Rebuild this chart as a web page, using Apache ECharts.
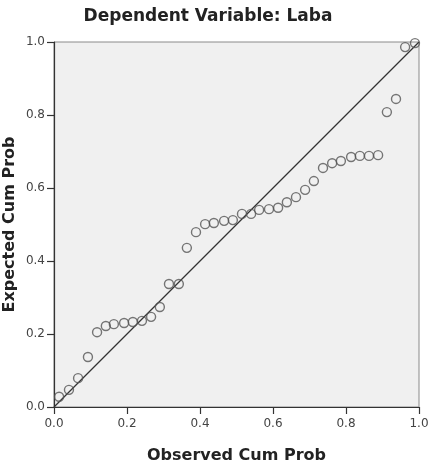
<!DOCTYPE html>
<html>
<head>
<meta charset="utf-8">
<script src="https://cdn.jsdelivr.net/npm/echarts@6/dist/echarts.min.js"></script>
<style>
  html, body { margin: 0; padding: 0; background: #fff; }
  #chart { width: 440px; height: 467px; }
</style>
</head>
<body>
<div id="chart"></div>
<script>
// observed cum prob (x) and expected cum prob (y)
var observed = [0.014, 0.041, 0.066, 0.093, 0.118, 0.142, 0.164, 0.192, 0.216, 0.241,
                0.266, 0.290, 0.315, 0.342, 0.364, 0.389, 0.414, 0.438, 0.466, 0.490,
                0.515, 0.540, 0.562, 0.589, 0.614, 0.638, 0.663, 0.688, 0.712, 0.737,
                0.762, 0.786, 0.814, 0.838, 0.863, 0.888, 0.912, 0.937, 0.962, 0.989];
var expected = [0.028, 0.047, 0.079, 0.137, 0.205, 0.222, 0.227, 0.230, 0.233, 0.236,
                0.247, 0.274, 0.337, 0.337, 0.436, 0.479, 0.501, 0.504, 0.510, 0.512,
                0.529, 0.529, 0.540, 0.542, 0.546, 0.561, 0.575, 0.595, 0.619, 0.655,
                0.668, 0.674, 0.685, 0.688, 0.688, 0.690, 0.808, 0.844, 0.986, 0.997];
var refLine = [[0, 0], [1, 1]];
var ticks = [0, 0.2, 0.4, 0.6, 0.8, 1.0];

var points = observed.map(function (x, i) { return [x, expected[i]]; });

var chart = echarts.init(document.getElementById('chart'));

var labelFont = { fontFamily: 'DejaVu Sans', fontSize: 12, color: '#444' };
var nameFont = { fontFamily: 'DejaVu Sans', fontSize: 16, fontWeight: 'bold', color: '#222' };

var option = {
    animation: false,
    title: {
        text: 'Dependent Variable: Laba',
        left: 203,
        textAlign: 'center',
        top: 3,
        textStyle: { fontFamily: 'DejaVu Sans', fontSize: 17, fontWeight: 'bold', color: '#222' }
    },
    grid: {
        left: 54, right: 21, top: 42, bottom: 60,
        outerBoundsMode: 'none',
        containLabel: false,
        show: true,
        backgroundColor: '#f0f0f0',
        borderColor: '#8a8a8a',
        borderWidth: 1
    },
    xAxis: {
        type: 'value',
        min: ticks[0], max: ticks[ticks.length - 1], interval: 0.2,
        name: 'Observed Cum Prob',
        nameLocation: 'middle',
        nameMoveOverlap: false,
        nameGap: 41,
        nameTextStyle: nameFont,
        axisLine: { show: true, onZero: false, lineStyle: { color: '#333', width: 1.2 } },
        axisTick: { show: true, length: 7, lineStyle: { color: '#333', width: 1.2 } },
        axisLabel: Object.assign({ margin: 11, formatter: function (v) { return v.toFixed(1); } }, labelFont),
        splitLine: { show: false }
    },
    yAxis: {
        type: 'value',
        min: ticks[0], max: ticks[ticks.length - 1], interval: 0.2,
        name: 'Expected Cum Prob',
        nameLocation: 'middle',
        nameMoveOverlap: false,
        nameGap: 36,
        nameTextStyle: nameFont,
        axisLine: { show: true, onZero: false, lineStyle: { color: '#333', width: 1.2 } },
        axisTick: { show: true, length: 7, lineStyle: { color: '#333', width: 1.2 } },
        axisLabel: Object.assign({ margin: 9, formatter: function (v) { return v.toFixed(1); } }, labelFont),
        splitLine: { show: false }
    },
    series: [
        {
            type: 'line',
            data: refLine,
            symbol: 'none',
            lineStyle: { color: '#333', width: 1.3 },
            z: 2
        },
        {
            type: 'scatter',
            data: points,
            symbol: 'circle',
            symbolSize: 9,
            itemStyle: { color: 'rgba(0,0,0,0)', borderColor: '#555', borderWidth: 1.4 },
            z: 3
        }
    ]
};

chart.setOption(option);
</script>
</body>
</html>
